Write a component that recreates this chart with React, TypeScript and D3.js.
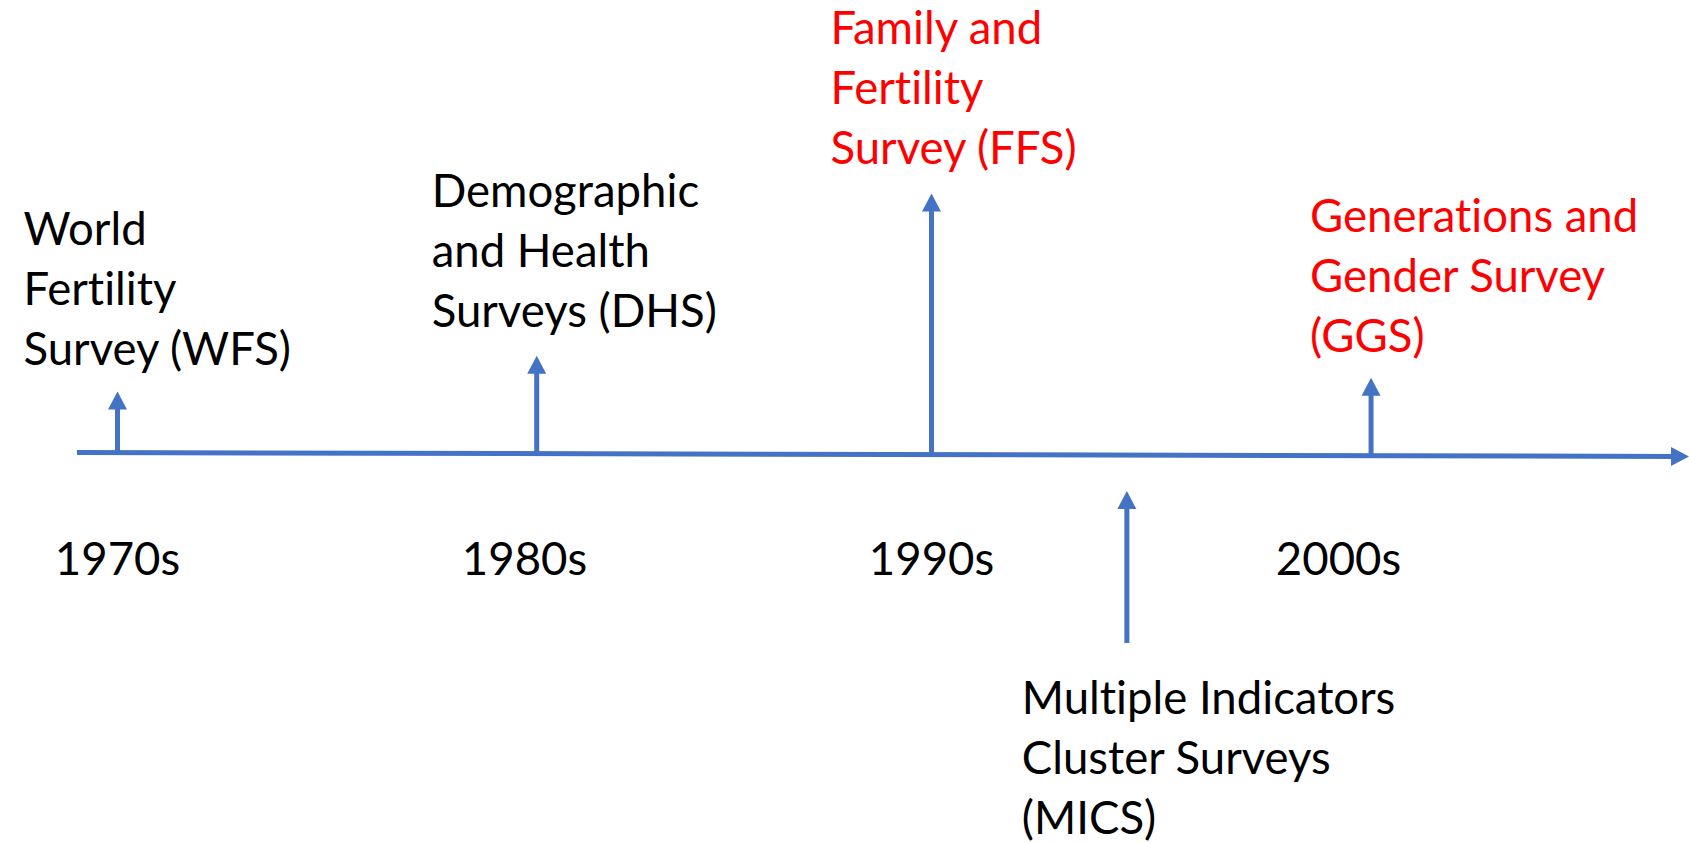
import React, { useEffect, useRef } from "react"
import * as d3 from "d3"

// survey programmes on the timeline
const surveyCodes = ["WFS", "DHS", "FFS", "MICS", "GGS"]
const surveyYears = [1970, 1980.3, 1990, 1994.8, 2000.8]
const surveyReach = [61, 98, 261, 152, 78] // arrow length, px-like units
const surveyBelow = [false, false, false, true, false]
const surveyHighlight = [false, false, true, false, true]
const surveyLines = [
  ["World", "Fertility", "Survey (WFS)"],
  ["Demographic", "and Health", "Surveys (DHS)"],
  ["Family and", "Fertility", "Survey (FFS)"],
  ["Multiple Indicators", "Cluster Surveys", "(MICS)"],
  ["Generations and", "Gender Survey", "(GGS)"],
]

const decadeLabels = ["1970s", "1980s", "1990s", "2000s"]
const decadeYears = [1970, 1980, 1990, 2000]

// label placement (relative to arrow x, absolute first baseline)
const labelDx = [-94, -105, -101, -105, -61]
const labelTop = [245, 207, 44, 714, 232]

const W = 1689
const H = 843
const BLUE = "#4472C4"
const FONT = "Lato, Calibri, 'Open Sans', sans-serif"
const FONT_SIZE = 45.5
const LINE_H = 60

export default function App() {
  const svgRef = useRef<SVGSVGElement>(null)

  useEffect(() => {
    if (!svgRef.current) return
    const svg = d3.select(svgRef.current)
    svg.selectAll("*").remove()

    const x = d3.scaleLinear().domain([1970, 2000]).range([117.5, 1338.5])
    const axisStart = 77
    const axisEnd = W
    // the axis line leans a touch downward to the right
    const axisY = d3.scaleLinear().domain([axisStart, axisEnd]).range([452.5, 456.5])

    const head = (tx: number, ty: number, dir: "up" | "right") => {
      const L = 18, hw = 9.5
      const pts = dir === "up"
        ? [[tx, ty], [tx - hw, ty + L], [tx + hw, ty + L]]
        : [[tx, ty], [tx - L, ty - hw], [tx - L, ty + hw]]
      return "M" + pts.map(p => p.join(",")).join("L") + "Z"
    }

    // main axis
    svg.append("line")
      .attr("x1", axisStart).attr("y1", axisY(axisStart))
      .attr("x2", axisEnd - 12).attr("y2", axisY(axisEnd))
      .attr("stroke", BLUE).attr("stroke-width", 5)
    svg.append("path")
      .attr("d", head(axisEnd, axisY(axisEnd), "right"))
      .attr("fill", BLUE)

    const rows = surveyCodes.map((code, i) => ({
      code,
      year: surveyYears[i],
      reach: surveyReach[i],
      below: surveyBelow[i],
      red: surveyHighlight[i],
      lines: surveyLines[i],
      dx: labelDx[i],
      top: labelTop[i],
    }))

    rows.forEach(d => {
      const cx = x(d.year)
      const base = d.below ? 643 : axisY(cx)
      const tip = base - d.reach
      svg.append("line")
        .attr("x1", cx).attr("y1", base)
        .attr("x2", cx).attr("y2", tip + 14)
        .attr("stroke", BLUE).attr("stroke-width", 5)
      svg.append("path")
        .attr("d", head(cx, tip, "up"))
        .attr("fill", BLUE)

      const t = svg.append("text")
        .attr("x", cx + d.dx)
        .attr("y", d.top)
        .attr("fill", d.red ? "#FF0000" : "#000000")
        .style("font-family", FONT)
        .style("font-size", `${FONT_SIZE}px`)
        .style("font-variant-ligatures", "none")
        .style("font-feature-settings", "'liga' 0, 'clig' 0")
      d.lines.forEach((ln, j) => {
        t.append("tspan")
          .attr("x", cx + d.dx)
          .attr("y", d.top + j * LINE_H)
          .text(ln)
      })
    })

    svg.selectAll(".decade")
      .data(decadeLabels)
      .enter().append("text")
      .attr("class", "decade")
      .attr("x", (_, i) => x(decadeYears[i]))
      .attr("y", 575)
      .attr("text-anchor", "middle")
      .attr("fill", "#000")
      .style("font-family", FONT)
      .style("font-size", `${FONT_SIZE}px`)
      .text(d => d)
  }, [])

  return (
    <div style={{ position: "absolute", left: 0, top: 0, width: W, height: H, background: "#fff" }}>
      <svg ref={svgRef} width={W} height={H} viewBox={`0 0 ${W} ${H}`} style={{ display: "block" }} />
    </div>
  )
}
